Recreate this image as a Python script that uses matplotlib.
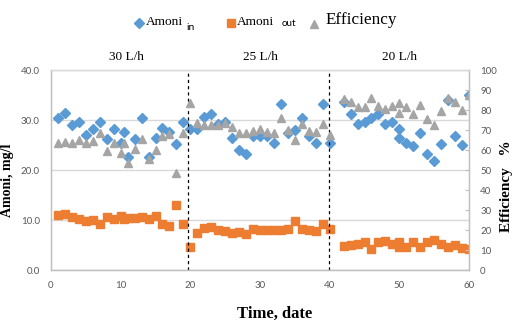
import matplotlib
matplotlib.use("Agg")
import matplotlib.pyplot as plt
import matplotlib.transforms as mtransforms
from matplotlib.lines import Line2D

# days of measurement (two readings on day 10/10.5 and on day 50)
days = [1, 2, 3, 4, 5, 6, 7, 8, 9, 10, 10.5,
        11, 12, 13, 14, 15, 16, 17, 18, 19, 20,
        21, 22, 23, 24, 25, 26, 27, 28, 29, 30,
        31, 32, 33, 34, 35, 36, 37, 38, 39, 40,
        42, 43, 44, 45, 46, 47, 48, 49, 50, 50,
        51, 52, 53, 54, 55, 56, 57, 58, 59, 60]

amoni_in = [30.4, 31.4, 29.1, 29.7, 27.0, 28.2, 29.7, 26.3, 28.2, 25.5, 27.6,
            22.6, 26.2, 30.4, 22.6, 26.5, 28.5, 27.6, 25.2, 29.7, 28.2,
            28.2, 30.7, 31.3, 29.3, 29.7, 26.5, 24.1, 23.2, 26.9, 26.9,
            26.9, 25.5, 33.3, 27.5, 28.0, 30.5, 26.8, 25.5, 33.3, 25.5,
            33.7, 31.2, 29.2, 29.7, 30.5, 31.2, 29.2, 29.7, 28.2, 26.5,
            25.5, 24.9, 27.5, 23.2, 21.8, 25.3, 34.0, 26.9, 25.1, 35.0]

amoni_out = [11.0, 11.3, 10.7, 10.3, 9.9, 10.1, 9.3, 10.7, 10.2, 10.8, 10.3,
             10.5, 10.5, 10.7, 10.2, 10.9, 9.3, 8.9, 13.0, 9.3, 4.7,
             7.5, 8.5, 8.7, 8.1, 7.9, 7.5, 7.7, 7.2, 8.2, 8.0,
             8.1, 8.1, 8.1, 8.2, 9.8, 8.2, 8.1, 7.9, 9.2, 8.2,
             4.9, 5.0, 5.3, 5.7, 4.2, 5.7, 5.9, 5.3, 5.7, 4.7,
             4.7, 5.7, 4.7, 5.7, 6.0, 5.3, 4.7, 5.0, 4.5, 4.3]

efficiency = [63.7, 64.2, 63.7, 65.0, 63.7, 64.7, 68.7, 59.5, 63.7, 58.3, 63.3,
              53.7, 60.3, 65.3, 55.3, 60.0, 67.0, 68.0, 48.3, 68.3, 83.3,
              73.3, 72.5, 72.5, 72.5, 73.3, 71.7, 68.3, 68.3, 69.7, 70.5,
              69.0, 68.3, 75.8, 70.0, 65.2, 73.2, 69.3, 69.0, 72.9, 67.5,
              85.5, 83.8, 81.7, 81.3, 86.2, 82.0, 80.5, 82.2, 83.3, 78.7,
              81.7, 77.8, 82.5, 75.5, 72.5, 79.5, 86.2, 84.2, 80.0, 87.5]

switch_days = [19.7, 39.9]
flow_labels = ["30 L/h", "25 L/h", "20 L/h"]
flow_label_x = [10.8, 30, 50]

BLUE = "#5B9BD5"
ORANGE = "#ED7D31"
GRAY = "#A5A5A5"
TICK = "#595959"
GRID = "#D9D9D9"
SERIF = "Liberation Serif"
SANS = "Lato"

W, H = 525, 329
fig = plt.figure(figsize=(W / 100, H / 100), dpi=100)
ax = fig.add_axes([51 / W, 59 / H, 418 / W, 200 / H])
ax2 = ax.twinx()

ax.plot(days, amoni_in, ls="none", marker="D", ms=4.6, color=BLUE, mec=BLUE)
ax.plot(days, amoni_out, ls="none", marker="s", ms=5.5, color=ORANGE, mec=ORANGE)
ax2.plot(days, efficiency, ls="none", marker="^", ms=5.2, color=GRAY, mec=GRAY)

for d in switch_days:
    ax.axvline(d, color="black", ls=(0, (2.5, 2.5)), lw=0.9)

ax.set_xlim(0, 60)
ax.set_ylim(0, 40)
ax2.set_ylim(0, 100)
ax.set_xticks(range(0, 61, 10))
ax.set_yticks(range(0, 41, 10))
ax.set_yticklabels([f"{v:.1f}" for v in range(0, 41, 10)])
ax2.set_yticks(range(0, 101, 10))
ax.yaxis.grid(True, color=GRID, lw=1.0)
ax.set_axisbelow(True)

for a in (ax, ax2):
    for lab in a.get_xticklabels() + a.get_yticklabels():
        lab.set_fontfamily(SANS)
        lab.set_fontsize(7)
        lab.set_color(TICK)
ax.tick_params(axis="x", length=0, pad=8)
ax.tick_params(axis="y", length=0, pad=8)
ax2.tick_params(axis="y", direction="in", length=3, color="#BFBFBF", pad=8)

for a in (ax, ax2):
    for s in a.spines.values():
        s.set_color("#BFBFBF")
        s.set_linewidth(0.9)
    a.spines["top"].set_color(GRID)

ax.set_ylabel("Amoni, mg/l", fontfamily=SERIF, fontweight="bold", fontsize=10)
ax.yaxis.set_label_coords(-0.088, 0.45)
ax2.set_ylabel("Efficiency   %", fontfamily=SERIF, fontweight="bold",
               fontsize=11, rotation=90)
ax2.yaxis.set_label_coords(1.075, 0.42)
ax.set_xlabel("Time, date", fontfamily=SERIF, fontweight="bold", fontsize=12)
ax.xaxis.set_label_coords(0.536, -0.18)

trans = mtransforms.blended_transform_factory(ax.transData, ax.transAxes)
for x, lab in zip(flow_label_x, flow_labels):
    ax.text(x, 1.065, lab, transform=trans, ha="center", va="center",
            fontfamily=SERIF, fontsize=9.5)


# legend built by hand: serif names with small sans subscripts
def px(x, y):
    return x / W, 1 - y / H


for (mx, my), mk, col, ms in [((139, 23), "D", BLUE, 4.6),
                              ((231, 23), "s", ORANGE, 5.5),
                              ((314, 24), "^", GRAY, 5.2)]:
    fx, fy = px(mx, my)
    fig.add_artist(Line2D([fx], [fy], transform=fig.transFigure, ls="none",
                          marker=mk, ms=ms, color=col, mec=col))

fig.text(*px(146, 22), "Amoni", ha="left", va="center", fontfamily=SERIF, fontsize=9.6)
fig.text(*px(186, 27), "in", ha="left", va="center", fontfamily=SANS, fontsize=7.5)
fig.text(*px(237, 22), "Amoni", ha="left", va="center", fontfamily=SERIF, fontsize=9.6)
fig.text(*px(282, 24), "out", ha="left", va="center", fontfamily=SANS, fontsize=7)
fig.text(*px(326, 20), "Efficiency", ha="left", va="center", fontfamily=SERIF, fontsize=12.3)

fig.savefig("out.png", dpi=100)
